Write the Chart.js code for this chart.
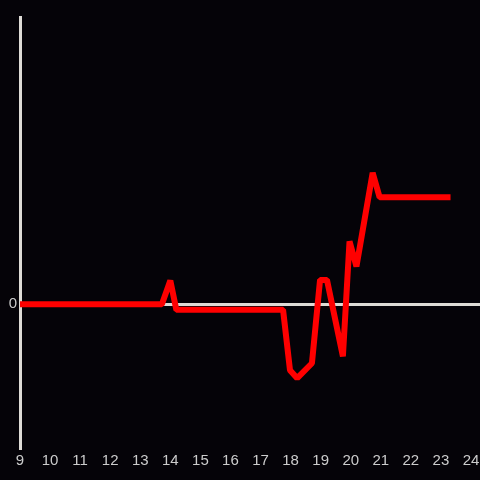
<!doctype html>
<html lang="en">
  <head>
    <meta charset="utf-8">
    <title>Line chart</title>
    <style>
      * { margin: 0; padding: 0; }
      body { background: #050308; }
      .chartBox { width: 480px; height: 480px; background: #050308; }
    </style>
  </head>
  <body>
    <div class="chartBox">
      <canvas id="myChart" width="480" height="480"></canvas>
    </div>
    <script src="https://cdn.jsdelivr.net/npm/chart.js/dist/chart.umd.min.js"></script>
    <script>
// data (hour of day, value)
const hours  = [9, 13.72, 14.0, 14.2, 17.75, 17.98, 18.22, 18.71, 18.98, 19.21, 19.74, 19.96, 20.19, 20.73, 20.96, 23.32];
const values = [0, 0, 0.083, -0.019, -0.019, -0.229, -0.257, -0.205, 0.085, 0.085, -0.181, 0.219, 0.132, 0.458, 0.373, 0.373];
const xTicks = [9, 10, 11, 12, 13, 14, 15, 16, 17, 18, 19, 20, 21, 22, 23, 24];

const axisColor = '#dedbd6';
const labelColor = '#cccccc';

const points = hours.map((h, i) => ({ x: h, y: values[i] }));

const config = {
  type: 'line',
  data: {
    datasets: [{
      data: points,
      borderColor: '#ff0000',
      borderWidth: 6,
      borderJoinStyle: 'bevel',
      pointRadius: 0,
      tension: 0,
      fill: false
    }]
  },
  options: {
    responsive: false,
    animation: false,
    layout: { padding: { top: 17, right: 0, left: 0, bottom: 0 } },
    plugins: { legend: { display: false }, tooltip: { enabled: false } },
    scales: {
      x: {
        type: 'linear',
        min: 9,
        max: 24.3,
        afterFit: s => { s.height = 32; s.paddingLeft = 0; s.paddingRight = 0; },
        grid: { display: false, drawTicks: false },
        border: { display: false },
        ticks: {
          stepSize: 1,
          includeBounds: false,
          color: labelColor,
          padding: 4,
          maxRotation: 0,
          autoSkip: false,
          font: { family: 'Liberation Sans', size: 15 },
          callback: v => xTicks.includes(v) ? String(v) : ''
        }
      },
      y: {
        min: -0.5,
        max: 1.0,
        afterFit: s => { s.width = 20; },
        border: { display: true, color: axisColor, width: 3 },
        grid: {
          drawTicks: false,
          lineWidth: 3,
          color: ctx => (ctx.tick && ctx.tick.value === 0) ? axisColor : 'transparent'
        },
        ticks: {
          stepSize: 0.5,
          color: labelColor,
          padding: 3,
          font: { family: 'Liberation Sans', size: 15 },
          callback: v => v === 0 ? '0' : ''
        }
      }
    }
  }
};

new Chart(document.getElementById('myChart'), config);
    </script>
  </body>
</html>
